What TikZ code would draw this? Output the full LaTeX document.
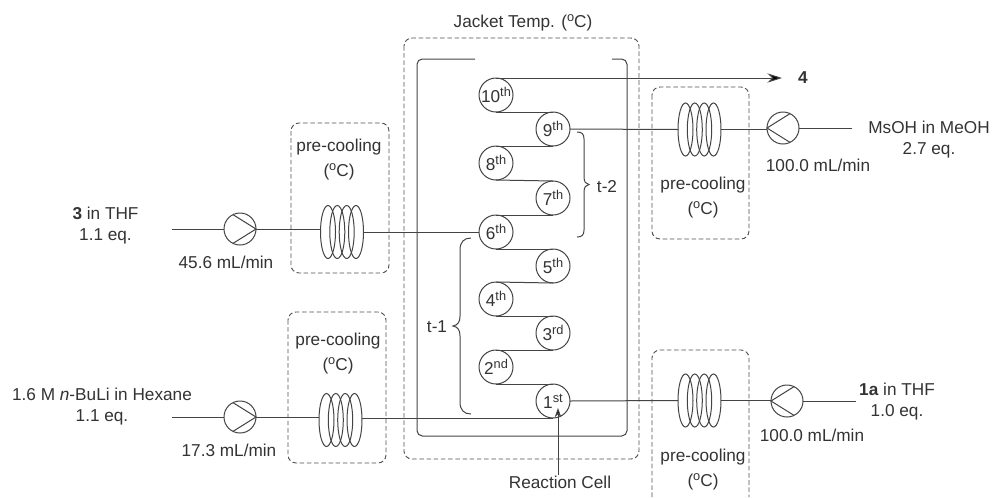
\documentclass[tikz,border=0pt]{standalone}
\usepackage{fontspec}
\setmainfont{Liberation Sans}
\usetikzlibrary{arrows.meta}
\definecolor{ink}{HTML}{333333}
\definecolor{pipe}{HTML}{444444}
\definecolor{dashc}{HTML}{505050}
\tikzset{
  pipeline/.style={draw=pipe,line width=.75pt},
  dashbox/.style={draw=dashc,line width=.7pt,dash pattern=on 3.4pt off 2pt,rounded corners=6pt},
  lab/.style={text=ink,align=center,inner sep=0pt,font=\fontsize{12.9pt}{15.75pt}\selectfont},
  preclab/.style={lab,font=\fontsize{12.9pt}{18.75pt}\selectfont},
  cell/.style={circle,draw=pipe,line width=.75pt,minimum size=25.5pt,inner sep=0pt,outer sep=0pt,text=ink,font=\fontsize{12.9pt}{15pt}\selectfont},
  pumpnode/.style={circle,draw=pipe,line width=.75pt,minimum size=24pt,inner sep=0pt,outer sep=0pt},
  coilbox/.style={rectangle,minimum width=32.25pt,minimum height=39.75pt,inner sep=0pt,outer sep=0pt},
}
\newcommand{\coilat}[3]{%
  \node[coilbox] (#1) at (#2,#3) {};
  \foreach \d in {-14,-4.7,4.7,14}{\draw[pipeline] (#1.center) ++(\d,0) ellipse [x radius=7.5,y radius=26.5];}
}
\newcommand{\pumpR}[3]{%
  \node[pumpnode] (#1) at (#2,#3) {};
  \draw[pipeline] (#1.116) -- (#1.east) -- (#1.244);
}
\newcommand{\pumpL}[3]{%
  \node[pumpnode] (#1) at (#2,#3) {};
  \draw[pipeline] (#1.64) -- (#1.west) -- (#1.-64);
}
\newcommand{\sups}[1]{\raisebox{4.6pt}{\fontsize{9.6pt}{10pt}\selectfont #1}}
\newcommand{\thsup}[2]{#1\sups{#2}}
\begin{document}
\begin{tikzpicture}[x=0.75pt,y=-0.75pt]
\useasboundingbox (0,0) rectangle (993,497);
\fill[white] (0,0) rectangle (993,497);

% Jacket
\draw[dashbox] (404,38) rectangle (639,459);
\node[lab] (jacket) at (523,23) {Jacket Temp. (\sups{o}C)};
\draw[pipeline,rounded corners=4pt] (475,59) -- (417,59) -- (417,436) -- (627,436) -- (627,59) -- (612,59);

% Reaction cells
\node[cell] (c10) at (496,95) {\thsup{10}{th}};
\node[cell] (c9) at (553,129) {\thsup{9}{th}};
\node[cell] (c8) at (496,163) {\thsup{8}{th}};
\node[cell] (c7) at (553,198) {\thsup{7}{th}};
\node[cell] (c6) at (496,232) {\thsup{6}{th}};
\node[cell] (c5) at (553,266) {\thsup{5}{th}};
\node[cell] (c4) at (496,299) {\thsup{4}{th}};
\node[cell] (c3) at (553,333) {\thsup{3}{rd}};
\node[cell] (c2) at (496,367) {\thsup{2}{nd}};
\node[cell] (c1) at (553,401) {\thsup{1}{st}};
\draw[pipeline] (c1.north) -- (c2.south);
\draw[pipeline] (c2.north) -- (c3.south);
\draw[pipeline] (c3.north) -- (c4.south);
\draw[pipeline] (c4.north) -- (c5.south);
\draw[pipeline] (c5.north) -- (c6.south);
\draw[pipeline] (c6.north) -- (c7.south);
\draw[pipeline] (c7.north) -- (c8.south);
\draw[pipeline] (c8.north) -- (c9.south);
\draw[pipeline] (c9.north) -- (c10.south);

% Product
\node[lab,font=\fontsize{12.9pt}{15pt}\selectfont\bfseries] (prod) at (803,78) {4};
\coordinate (prodtip) at (782,78);
\draw[pipeline,-{Stealth[length=11pt,width=7pt,fill=black]}] (c10.north) -- (c10.north -| prodtip);

% Braces
\draw[pipeline] (577,132) .. controls (582,132) and (584,134) .. (584,139) -- (584,177)
  .. controls (584,182) and (586,184) .. (589,184.5) .. controls (586,185) and (584,187) .. (584,192)
  -- (584,230) .. controls (584,235) and (582,237) .. (577,237);
\node[lab] (t2) at (607,187) {t-2};
\draw[pipeline] (471,238) .. controls (464,238) and (460,242) .. (460,250) -- (460,316)
  .. controls (460,322) and (458,325) .. (453,326) .. controls (458,327) and (460,330) .. (460,336)
  -- (460,402) .. controls (460,410) and (464,414) .. (471,414);
\node[lab] (t1) at (437,327) {t-1};

% Reaction cell label
\node[lab] (rc) at (560,482) {Reaction Cell};
\coordinate (rctip) at (558,408);
\draw[pipeline,-{Stealth[length=7pt,width=5pt,fill=black]}] (rctip |- rc.north) -- (rctip);

% Upper left feed
\node[lab] (f3) at (105.5,225.5) {\textbf{3} in THF\\1.1 eq.};
\coordinate (f3s) at (172,229);
\pumpR{p3}{240}{229}
\coilat{k3}{342}{232}
\draw[pipeline] (f3s) -- (p3.west);
\draw[pipeline] (p3.east) -- (p3.east -| k3.west);
\draw[pipeline] (k3.east) -- (c6.west);
\draw[dashbox] (291,123) rectangle (389,273);
\node[preclab] (pc3) at (339,159.5) {pre-cooling\\(\sups{o}C)};
\node[lab] (r3) at (226,262) {45.6 mL/min};

% Lower left feed
\node[lab] (fb) at (102,407) {1.6 M \textit{n}-BuLi in Hexane\\1.1 eq.};
\coordinate (fbs) at (172,417);
\pumpR{pb}{240}{417}
\coilat{kb}{340.5}{420}
\draw[pipeline] (fbs) -- (pb.west);
\draw[pipeline] (pb.east) -- (pb.east -| kb.west);
\draw[pipeline] (c1.south -| kb.east) -- (c1.south);
\draw[dashbox] (288,312) rectangle (386,463);
\node[preclab] (pcb) at (338,354) {pre-cooling\\(\sups{o}C)};
\node[lab] (rb) at (229,450) {17.3 mL/min};

% Upper right feed
\node[lab] (fm) at (929,139.5) {MsOH in MeOH\\2.7 eq.};
\coordinate (fms) at (852,128);
\pumpL{pm}{783}{128}
\coilat{km}{699.5}{129.5}
\draw[pipeline] (fms) -- (pm.east);
\draw[pipeline] (c9.east) -- (km.west);
\draw[pipeline] (km.east) -- (km.east -| pm.west);
\draw[dashbox] (652,87) rectangle (749,239);
\node[preclab] (pcm) at (703,197.5) {pre-cooling\\(\sups{o}C)};
\node[lab] (rm) at (818,165) {100.0 mL/min};

% Lower right feed
\node[lab] (fa) at (897,402) {\textbf{1a} in THF\\1.0 eq.};
\coordinate (fas) at (856,401);
\pumpL{pa}{787}{401}
\coilat{ka}{699.5}{400.5}
\draw[pipeline] (fas) -- (pa.east);
\draw[pipeline] (c1.east) -- (ka.west);
\draw[pipeline] (ka.east) -- (ka.east -| pa.west);
\draw[dashbox] (652,497) -- (652,350) -- (749,350) -- (749,497);
\node[preclab] (pca) at (703,469.5) {pre-cooling\\(\sups{o}C)};
\node[lab] (ra) at (812,435) {100.0 mL/min};
\end{tikzpicture}
\end{document}
